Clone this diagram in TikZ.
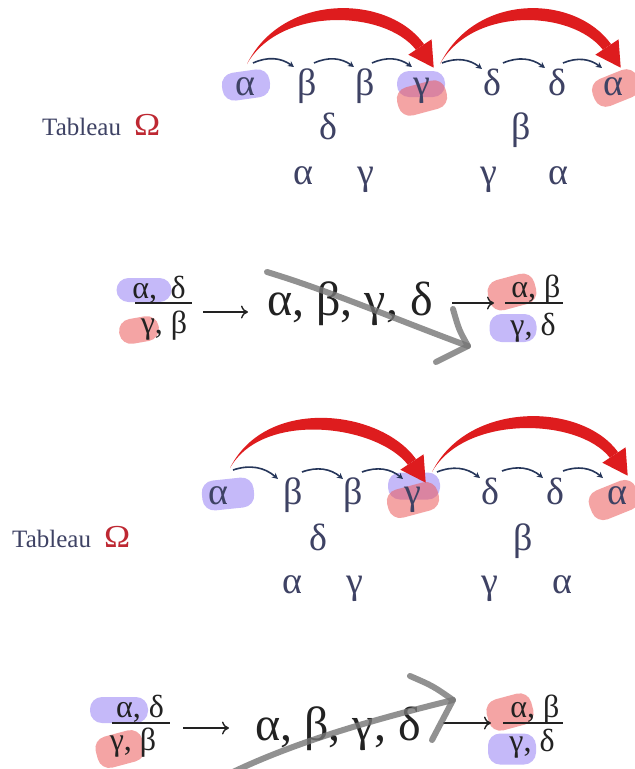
\documentclass[tikz,border=0pt]{standalone}
\usepackage{fontspec}
\setmainfont{Liberation Serif}
\usetikzlibrary{calc,arrows.meta}

\definecolor{ink}{RGB}{62,66,100}
\definecolor{formula}{RGB}{34,34,34}
\definecolor{arcred}{RGB}{222,28,30}
\definecolor{omegared}{RGB}{190,40,50}
\definecolor{arcnavy}{RGB}{38,54,90}
\definecolor{hlblue}{RGB}{150,128,245}
\definecolor{hlred}{RGB}{236,90,90}
\definecolor{strike}{RGB}{118,118,118}

% tapered red sweep: #1 start, #2 base of the arrow head
\newcommand\redsweep[2]{%
  \fill[bigarc] (#1) .. controls ($(#1)+(36,-72)$) and ($(#2)+(-31.9,-52.8)$) .. ($(#2)+(4.1,-2.8)$)
    -- ($(#2)+(-4.1,2.8)$) .. controls ($(#2)+(-35.1,-37.2)$) and ($(#1)+(33,-58)$) .. (#1) -- cycle;
  \fill[bigarc] ($(#2)+(11.6,-7.7)$) -- ($(#2)+(13.7,20.7)$) -- ($(#2)+(-11.6,7.7)$) -- cycle;
}

\begin{document}
\begin{tikzpicture}[x=1pt,y=-1pt,
  letter/.style={font=\fontsize{38}{38}\selectfont, text=ink, inner sep=0pt, anchor=base},
  frac/.style={font=\fontsize{32}{32}\selectfont, text=formula, inner sep=0pt, anchor=base},
  biglist/.style={font=\fontsize{48}{48}\selectfont, text=formula, inner sep=0pt, anchor=base},
  tablabel/.style={font=\fontsize{25}{25}\selectfont, text=ink, inner sep=0pt, anchor=base west},
  omega/.style={font=\fontsize{32}{32}\selectfont, text=omegared, inner sep=0pt, anchor=base west, xscale=1.1},
  hlb/.style={fill=hlblue, fill opacity=0.55, rounded corners=12pt, inner sep=0pt},
  hlr/.style={fill=hlred, fill opacity=0.55, rounded corners=12pt, inner sep=0pt},
  hop/.style={draw=arcnavy, line width=1.6pt, -{Stealth[length=6pt,width=6pt]}},
  bigarc/.style={fill=arcred},
  implies/.style={draw=formula, line width=1.4pt, -{To[length=7pt,width=13pt]}},
  fracbar/.style={draw=formula, line width=1.3pt},
  strikeout/.style={draw=strike, draw opacity=0.8, line width=6pt, line cap=round, line join=round},
]
\useasboundingbox (0,0) rectangle (635,769);
\fill[white] (0,0) rectangle (635,769);

% ---------- upper tableau ----------
\node[hlb, minimum width=48, minimum height=28, rotate=8] (hA1) at (246,85) {};
\node[hlb, minimum width=48, minimum height=26] (hG1) at (421,84) {};
\node[hlr, minimum width=50, minimum height=29, rotate=15] (hG1r) at (422,98) {};
\node[hlr, minimum width=48, minimum height=29, rotate=22] (hA2) at (616,88) {};

\node[tablabel] (tab1) at (42,135) {Tableau};
\node[omega] (om1) at (134,135) {Ω};

\node[letter] (ta1) at (245,95) {α};
\node[letter] (tb1) at (307,95) {β};
\node[letter] (tb2) at (365,95) {β};
\node[letter] (tg1) at (422,95) {γ};
\node[letter] (td1) at (492,95) {δ};
\node[letter] (td2) at (557,95) {δ};
\node[letter] (ta2) at (613,95) {α};
\node[letter] (tr2d) at (328,139) {δ};
\node[letter] (tr2b) at (521,139) {β};
\node[letter] (tr3a) at (303,184) {α};
\node[letter] (tr3g) at (366,184) {γ};
\node[letter] (tr3g2) at (489,184) {γ};
\node[letter] (tr3a2) at (558,184) {α};

\draw[hop] ($(ta1.base)+(8,-32)$) to[bend left=30] ($(tb1.base)+(-13,-28)$);
\draw[hop] ($(tb1.base)+(7,-32)$) to[bend left=30] ($(tb2.base)+(-11,-28)$);
\draw[hop] ($(tb2.base)+(7,-32)$) to[bend left=30] ($(tg1.base)+(-10,-28)$);
\draw[hop] ($(tg1.base)+(20,-32)$) to[bend left=30] ($(td1.base)+(-10,-26)$);
\draw[hop] ($(td1.base)+(11,-32)$) to[bend left=30] ($(td2.base)+(-12,-27)$);
\draw[hop] ($(td2.base)+(6,-32)$) to[bend left=30] ($(ta2.base)+(-11,-27)$);

\coordinate (s1) at ($(ta1.base)+(2,-31)$);
\coordinate (e1) at ($(tg1.base)+(-2,-48)$);
\coordinate (s2) at ($(tg1.base)+(18,-31)$);
\coordinate (e2) at ($(ta2.base)+(-6,-48)$);
\redsweep{s1}{e1}
\redsweep{s2}{e2}

% ---------- upper formula ----------
\node[hlb, minimum width=55, minimum height=24] (hfA) at (144,290) {};
\node[hlr, minimum width=40, minimum height=25, rotate=10] (hfG) at (139,330) {};
\node[hlr, minimum width=48, minimum height=31, rotate=15] (hfA2) at (512,292) {};
\node[hlb, minimum width=47, minimum height=28] (hfG2) at (513,328) {};

\node[frac] (n1) at (159,298) {α,\hspace{0.42em}δ};
\node[frac] (d1) at (164,333) {γ,\hspace{0.25em}β};
\coordinate (b1l) at (135,303);
\coordinate (b1r) at (192,303);
\draw[fracbar] (b1l) -- (b1r);

\node[biglist] (list1) at (350,315) {α, β, γ, δ};

\node[frac] (n2) at (536,297) {α,\hspace{0.25em}β};
\node[frac] (d2) at (533,335) {γ,\hspace{0.25em}δ};
\coordinate (b2l) at (505,303);
\coordinate (b2r) at (563,303);
\draw[fracbar] (b2l) -- (b2r);

\coordinate (i1s) at (203,312);
\coordinate (i1e) at (248,312);
\coordinate (i2s) at (452,303);
\coordinate (i2e) at (494,303);
\draw[implies] (i1s) -- (i1e);
\draw[implies] (i2s) -- (i2e);

\coordinate (k1s) at (267,272);
\coordinate (k1t) at (468,346);
\coordinate (k1u) at (453,309);
\coordinate (k1d) at (436,362);
\draw[strikeout] (k1s) .. controls (330,291) and (400,321) .. (k1t);
\draw[strikeout] (k1u) .. controls (459,330) .. (k1t) -- (k1d);

% ---------- lower tableau ----------
\node[hlb, minimum width=52, minimum height=30, rotate=6] (hA3) at (228,494) {};
\node[hlb, minimum width=52, minimum height=27] (hG3) at (414,486) {};
\node[hlr, minimum width=52, minimum height=29, rotate=15] (hG3r) at (413,500) {};
\node[hlr, minimum width=50, minimum height=31, rotate=22] (hA4) at (614,500) {};

\node[tablabel] (tab2) at (12,547) {Tableau};
\node[omega] (om2) at (104,547) {Ω};

\node[letter] (ba1) at (218,504) {α};
\node[letter] (bb1) at (293,504) {β};
\node[letter] (bb2) at (353,504) {β};
\node[letter] (bg1) at (413,504) {γ};
\node[letter] (bd1) at (490,504) {δ};
\node[letter] (bd2) at (555,504) {δ};
\node[letter] (ba2) at (617,504) {α};
\node[letter] (br2d) at (318,550) {δ};
\node[letter] (br2b) at (523,550) {β};
\node[letter] (br3a) at (292,593) {α};
\node[letter] (br3g) at (355,593) {γ};
\node[letter] (br3g2) at (490,593) {γ};
\node[letter] (br3a2) at (562,593) {α};

\draw[hop] ($(ba1.base)+(15,-34)$) to[bend left=30] ($(bb1.base)+(-15,-25)$);
\draw[hop] ($(bb1.base)+(9,-32)$) to[bend left=30] ($(bb2.base)+(-10,-25)$);
\draw[hop] ($(bb2.base)+(9,-32)$) to[bend left=30] ($(bg1.base)+(-10,-25)$);
\draw[hop] ($(bg1.base)+(24,-32)$) to[bend left=30] ($(bd1.base)+(-10,-26)$);
\draw[hop] ($(bd1.base)+(12,-33)$) to[bend left=30] ($(bd2.base)+(-12,-26)$);
\draw[hop] ($(bd2.base)+(8,-33)$) to[bend left=30] ($(ba2.base)+(-14,-26)$);

\coordinate (s3) at ($(ba1.base)+(12,-36)$);
\coordinate (e3) at ($(bg1.base)+(-1,-42)$);
\coordinate (s4) at ($(bg1.base)+(19,-32)$);
\coordinate (e4) at ($(ba2.base)+(-3,-49)$);
\redsweep{s3}{e3}
\redsweep{s4}{e4}

% ---------- lower formula ----------
\node[hlb, minimum width=58, minimum height=26] (hfA3) at (119,710) {};
\node[hlr, minimum width=48, minimum height=32, rotate=15] (hfG3) at (120,749) {};
\node[hlr, minimum width=46, minimum height=32, rotate=15] (hfA4) at (510,712) {};
\node[hlb, minimum width=48, minimum height=31] (hfG4) at (512,749) {};

\node[frac] (n3) at (140,717) {α,\hspace{0.25em}δ};
\node[frac] (d3) at (133,750) {γ,\hspace{0.25em}β};
\coordinate (b3l) at (112,723);
\coordinate (b3r) at (170,723);
\draw[fracbar] (b3l) -- (b3r);

\node[biglist] (list2) at (338,740) {α, β, γ, δ};

\node[frac] (n4) at (535,717) {α,\hspace{0.25em}β};
\node[frac] (d4) at (532,751) {γ,\hspace{0.25em}δ};
\coordinate (b4l) at (503,723);
\coordinate (b4r) at (563,723);
\draw[fracbar] (b4l) -- (b4r);

\coordinate (i3s) at (183,728);
\coordinate (i3e) at (229,728);
\coordinate (i4s) at (443,723);
\coordinate (i4e) at (491,723);
\draw[implies] (i3s) -- (i3e);
\draw[implies] (i4s) -- (i4e);

\coordinate (k2s) at (233,772);
\coordinate (k2t) at (453,700);
\coordinate (k2u) at (410,676);
\coordinate (k2d) at (432,740);
\draw[strikeout] (k2s) .. controls (300,740) and (380,718) .. (k2t);
\draw[strikeout] (k2u) .. controls (433,686) .. (k2t) -- (k2d);
\end{tikzpicture}
\end{document}
